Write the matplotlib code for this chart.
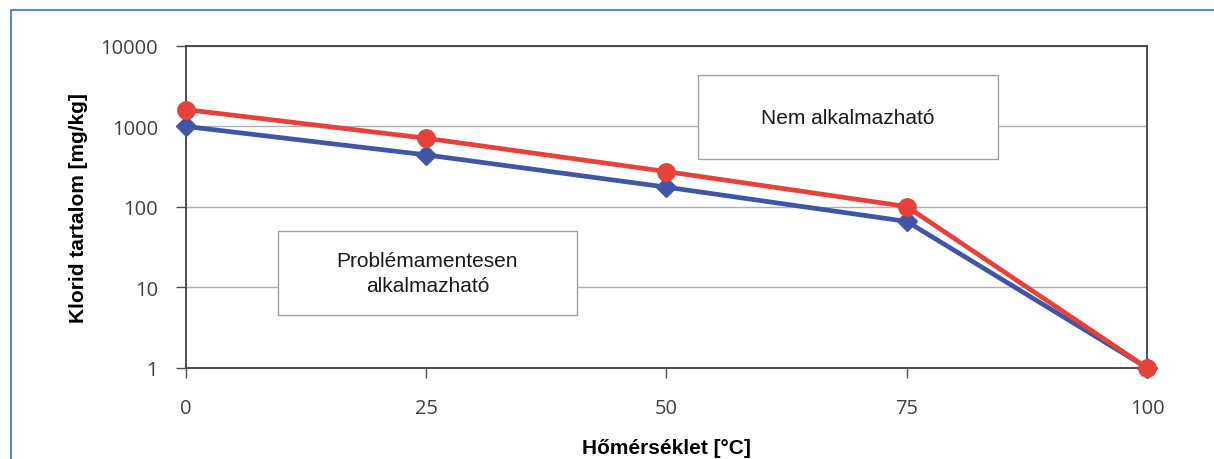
import matplotlib
matplotlib.use("Agg")
import matplotlib.pyplot as plt
from matplotlib.patches import Rectangle

# adatok
homerseklet = [0, 25, 50, 75, 100]
klorid_kek = [1000, 443, 176, 66, 1]
klorid_piros = [1620, 713, 275, 101, 1]
x_ticks = [0, 25, 50, 75, 100]
y_ticks = [1, 10, 100, 1000, 10000]

fig = plt.figure(figsize=(12.14, 4.6), dpi=100)
ax = fig.add_axes([0.153, 0.198, 0.792, 0.700])

# kék keret a kép körül
fig.patches.append(Rectangle((11 / 1214, -0.1), 1.2, 1 - 11 / 460 + 0.1,
                             transform=fig.transFigure, fill=False,
                             edgecolor="#5b87c9", linewidth=1.5))

ax.set_yscale("log")
ax.set_xlim(0, 100)
ax.set_ylim(1, 10000)
ax.set_xticks(x_ticks)
ax.set_xticklabels([str(v) for v in x_ticks])
ax.set_yticks(y_ticks)
ax.set_yticklabels([str(v) for v in y_ticks])
ax.minorticks_off()
ax.yaxis.grid(True, color="#b0b0b0", linewidth=1)
ax.set_axisbelow(True)

for s in ax.spines.values():
    s.set_color("#404040")
    s.set_linewidth(1.3)
ax.tick_params(axis="both", colors="#505050", labelcolor="#404040",
               labelsize=14.5, length=7, width=1)
ax.tick_params(axis="x", pad=15)
ax.tick_params(axis="y", pad=13)
for lbl in ax.get_xticklabels() + ax.get_yticklabels():
    lbl.set_fontfamily("Open Sans")

ax.plot(homerseklet, klorid_kek, color="#3f55a8", linewidth=3.4,
        marker="D", markersize=10.5, clip_on=False, zorder=3)
ax.plot(homerseklet, klorid_piros, color="#e8403b", linewidth=3.4,
        marker="o", markersize=12.5, clip_on=False, zorder=4)

ax.set_xlabel("Hőmérséklet [°C]", fontsize=15, fontweight="bold",
              fontfamily="Liberation Sans", labelpad=14)
ax.set_ylabel("Klorid tartalom [mg/kg]", fontsize=15, fontweight="bold",
              fontfamily="Liberation Sans", labelpad=9)

# szövegdobozok
def box(x0, y0, x1, y1, szoveg):
    px = lambda x, y: (x / 1214, 1 - y / 460)
    a = px(x0, y1)
    b = px(x1, y0)
    fig.patches.append(Rectangle(a, b[0] - a[0], b[1] - a[1],
                                 transform=fig.transFigure, facecolor="white",
                                 edgecolor="#a0a0a0", linewidth=1, zorder=5))
    c = px((x0 + x1) / 2, (y0 + y1) / 2)
    fig.text(c[0], c[1], szoveg, ha="center", va="center", fontsize=15,
             fontfamily="Liberation Sans", color="#1a1a1a", linespacing=1.45,
             zorder=6)

box(698, 76, 998, 160, "Nem alkalmazható")
box(278, 232, 577, 316, "Problémamentesen\nalkalmazható")

fig.savefig("out.png", dpi=100)
